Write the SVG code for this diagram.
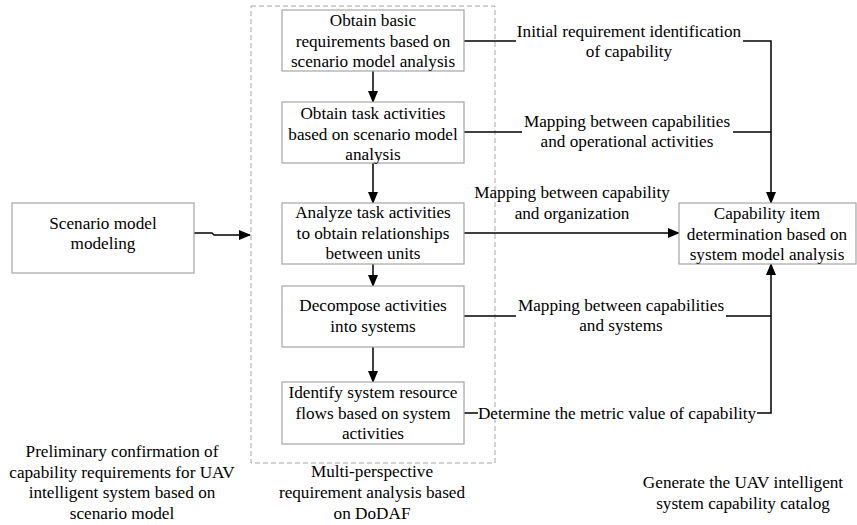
<svg xmlns="http://www.w3.org/2000/svg" width="857" height="525" viewBox="0 0 857 525">
  <defs>
    <marker id="arrow" markerWidth="12" markerHeight="10" refX="11" refY="5" orient="auto" markerUnits="userSpaceOnUse">
      <path d="M0,0 L12,5 L0,10 Z" fill="#000"/>
    </marker>
  </defs>
  <style>
    .lbl { font-family: 'Liberation Serif', serif; font-size: 17.2px; fill: #000; text-anchor: middle; }
    .box { fill: #fff; stroke: #a6a6a6; stroke-width: 1.2; }
    .frame { fill: none; stroke: #a6a6a6; stroke-width: 1; stroke-dasharray: 5 3; }
    .line { fill: none; stroke: #000; stroke-width: 1.5; }
    .arr { fill: none; stroke: #000; stroke-width: 1.5; marker-end: url(#arrow); }
  </style>

  <!-- DoDAF analysis frame -->
  <rect class="frame" x="251" y="6" width="244" height="457"/>

  <g id="connectors">
    <!-- scenario model to DoDAF frame -->
    <polyline class="arr" points="194,233 212,233 214,235 250,235"/>
    <!-- vertical flow inside the frame -->
    <line class="arr" x1="373" y1="71" x2="373" y2="102"/>
    <line class="arr" x1="373" y1="163" x2="373" y2="203"/>
    <line class="arr" x1="373" y1="264" x2="373" y2="286"/>
    <line class="arr" x1="373" y1="347" x2="373" y2="382"/>
    <!-- mapping links to the capability item box -->
    <line class="line" x1="464" y1="41" x2="516" y2="41"/>
    <polyline class="arr" points="743,41 771,41 771,203"/>
    <line class="line" x1="464" y1="132" x2="522" y2="132"/>
    <line class="line" x1="733" y1="132" x2="771" y2="132"/>
    <line class="arr" x1="464" y1="233" x2="679" y2="233"/>
    <line class="line" x1="464" y1="316" x2="516" y2="316"/>
    <line class="line" x1="726" y1="316" x2="771" y2="316"/>
    <line class="line" x1="464" y1="413" x2="478" y2="413"/>
    <polyline class="arr" points="757,413 771,413 771,264"/>
  </g>

  <g id="scenario-modeling" class="lbl">
    <rect class="box" x="12" y="203" width="182" height="70"/>
    <text x="103" y="229">Scenario model</text>
    <text x="103" y="249">modeling</text>
  </g>

  <g id="basic-requirements" class="lbl">
    <rect class="box" x="282" y="10" width="182" height="61"/>
    <text x="373" y="26">Obtain basic</text>
    <text x="373" y="47">requirements based on</text>
    <text x="373" y="67">scenario model analysis</text>
  </g>

  <g id="task-activities" class="lbl">
    <rect class="box" x="282" y="102" width="182" height="61"/>
    <text x="373" y="119">Obtain task activities</text>
    <text x="373" y="140">based on scenario model</text>
    <text x="373" y="160">analysis</text>
  </g>

  <g id="unit-relationships" class="lbl">
    <rect class="box" x="282" y="203" width="182" height="61"/>
    <text x="373" y="218">Analyze task activities</text>
    <text x="373" y="239">to obtain relationships</text>
    <text x="373" y="259">between units</text>
  </g>

  <g id="decompose-activities" class="lbl">
    <rect class="box" x="282" y="286" width="182" height="61"/>
    <text x="373" y="311">Decompose activities</text>
    <text x="373" y="332">into systems</text>
  </g>

  <g id="resource-flows" class="lbl">
    <rect class="box" x="282" y="382" width="182" height="62"/>
    <text x="373" y="398">Identify system resource</text>
    <text x="373" y="419">flows based on system</text>
    <text x="373" y="439">activities</text>
  </g>

  <g id="capability-item" class="lbl">
    <rect class="box" x="679" y="203" width="177" height="61"/>
    <text x="767" y="219">Capability item</text>
    <text x="767" y="240">determination based on</text>
    <text x="767" y="260">system model analysis</text>
  </g>

  <g id="link-labels" class="lbl">
    <text x="629" y="37">Initial requirement identification</text>
    <text x="629" y="57">of capability</text>
    <text x="627" y="127">Mapping between capabilities</text>
    <text x="627" y="147">and operational activities</text>
    <text x="572" y="198">Mapping between capability</text>
    <text x="572" y="219">and organization</text>
    <text x="621" y="311">Mapping between capabilities</text>
    <text x="621" y="331">and systems</text>
    <text x="617" y="419">Determine the metric value of capability</text>
  </g>

  <g id="stage-captions" class="lbl">
    <text x="122" y="457">Preliminary confirmation of</text>
    <text x="122" y="478">capability requirements for UAV</text>
    <text x="122" y="498">intelligent system based on</text>
    <text x="122" y="519">scenario model</text>
    <text x="372" y="477">Multi-perspective</text>
    <text x="372" y="498">requirement analysis based</text>
    <text x="372" y="519">on DoDAF</text>
    <text x="743" y="488">Generate the UAV intelligent</text>
    <text x="743" y="509">system capability catalog</text>
  </g>
</svg>
